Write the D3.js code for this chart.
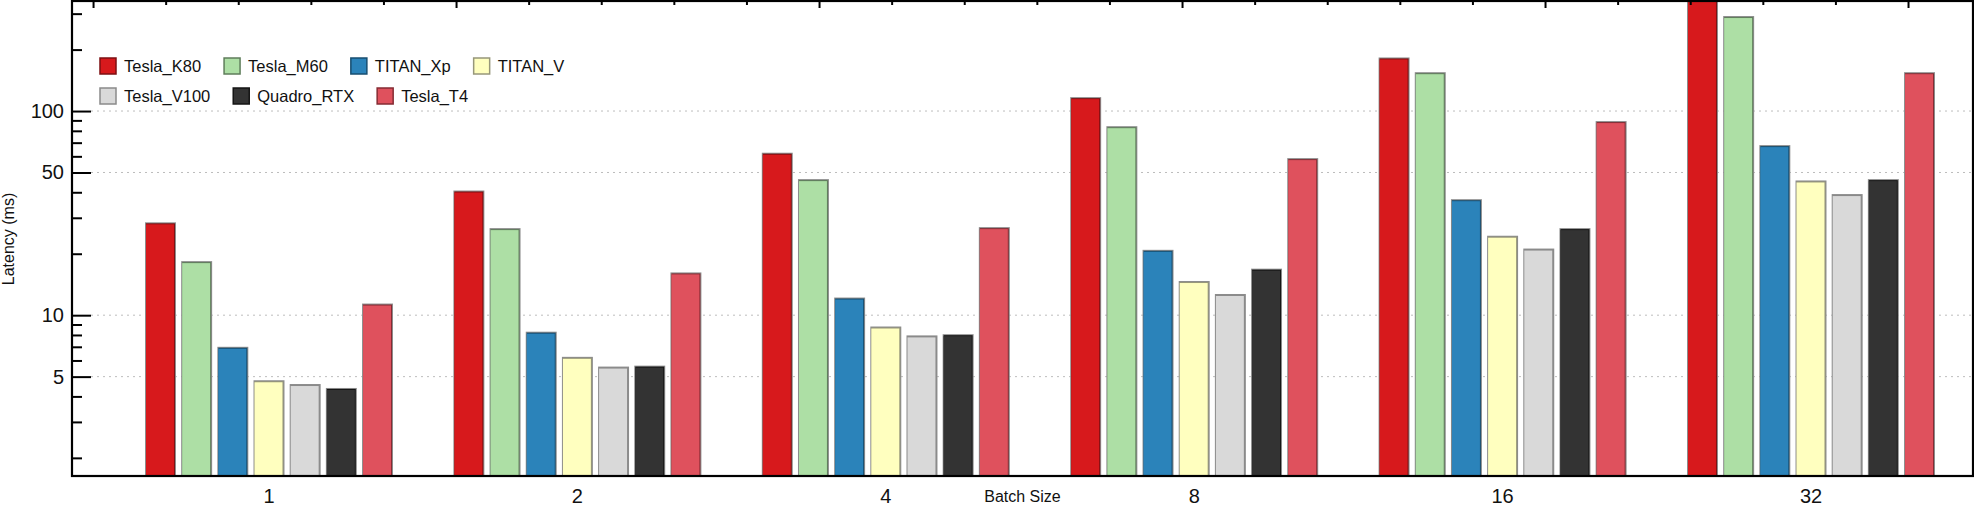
<!DOCTYPE html>
<html>
  <head>
    <script src="https://d3js.org/d3.v7.min.js"></script>
    <style>
      body { margin: 0; background: #fff; }
      text { font-family: "Liberation Sans", Arial, sans-serif; fill: #111; }
      .tick-label { font-size: 20px; }
      .axis-label { font-size: 16px; }
      .legend-label { font-size: 16.5px; }
    </style>
  </head>
  <body>
    <div id="chart"></div>
    <script>
      // Data
      const batchSizes = ["1", "2", "4", "8", "16", "32"];
      const gpus = ["Tesla_K80", "Tesla_M60", "TITAN_Xp", "TITAN_V", "Tesla_V100", "Quadro_RTX", "Tesla_T4"];
      const teslaK80 = [28.5, 40.8, 62.5, 117, 183, 380];
      const teslaM60 = [18.4, 26.7, 46.4, 84.3, 155, 292];
      const titanXp = [7.0, 8.3, 12.2, 20.9, 37.0, 68.1];
      const titanV = [4.8, 6.25, 8.8, 14.7, 24.5, 45.7];
      const teslaV100 = [4.6, 5.6, 7.96, 12.7, 21.2, 39.2];
      const quadroRTX = [4.4, 5.66, 8.07, 16.9, 26.7, 46.4];
      const teslaT4 = [11.4, 16.2, 27.0, 58.8, 89.3, 155];
      const seriesValues = [teslaK80, teslaM60, titanXp, titanV, teslaV100, quadroRTX, teslaT4];
      const yMajorTicks = [5, 10, 50, 100];
      const yMinorTicks = [2, 3, 4, 6, 7, 8, 9, 20, 30, 40, 60, 70, 80, 90, 200, 300];

      const fills = ["#d7191c", "#addfa5", "#2b83ba", "#ffffbf", "#d9d9d9", "#333333", "#df515d"];
      const edges = ["#7d0f12", "#5f7d5b", "#174e70", "#97977a", "#8a8a8a", "#151515", "#852b33"];

      const W = 1974, H = 506;
      const pL = 72, pR = 1973, pT = 1, pB = 476;

      const svg = d3.select("#chart").append("svg")
        .attr("width", W).attr("height", H);

      // Scales
      const y = d3.scaleLog().domain([1.63, 346]).range([pB, pT]);
      const x0 = d3.scaleBand().domain(batchSizes).range([114.8, 1965.2]);
      const x1 = d3.scaleBand().domain(gpus)
        .range([x0.bandwidth() / 2 - 124, x0.bandwidth() / 2 + 124])
        .paddingInner(0.144);
      const xt = d3.scaleLinear().domain([-0.058, 5.179]).range([pL, pR]);

      svg.append("clipPath").attr("id", "plot-clip")
        .append("rect").attr("x", pL).attr("y", pT + 1)
        .attr("width", pR - pL).attr("height", pB - pT - 1);

      // Dotted gridlines
      svg.append("g").selectAll("line").data(yMajorTicks).join("line")
        .attr("x1", pL + 19).attr("x2", pR)
        .attr("y1", d => y(d)).attr("y2", d => y(d))
        .attr("stroke", "#bdbdbd").attr("stroke-width", 1)
        .attr("stroke-dasharray", "2,4");

      // Bars: gray outline, dark edge, fill
      const rows = [];
      batchSizes.forEach((b, i) => gpus.forEach((g, j) => rows.push({ b, g, j, v: seriesValues[j][i] })));
      const bars = svg.append("g").attr("clip-path", "url(#plot-clip)")
        .selectAll("g").data(rows).join("g")
        .attr("transform", d => `translate(${x0(d.b) + x1(d.g)},0)`);
      const bw = x1.bandwidth();
      bars.append("rect").attr("x", 0).attr("width", bw)
        .attr("y", d => y(d.v)).attr("height", d => pB - y(d.v))
        .attr("fill", "#8c8c8c");
      bars.append("rect").attr("x", 1).attr("width", bw - 2)
        .attr("y", d => y(d.v) + 1).attr("height", d => pB - y(d.v))
        .attr("fill", d => edges[d.j]);
      bars.append("rect").attr("x", 1).attr("width", bw - 3)
        .attr("y", d => y(d.v) + 2).attr("height", d => pB - y(d.v))
        .attr("fill", d => fills[d.j]);

      // Left axis: major ticks with labels, minor ticks inward
      const yAxis = svg.append("g").attr("transform", `translate(${pL},0)`)
        .call(d3.axisLeft(y).tickValues(yMajorTicks).tickFormat(d3.format("d"))
          .tickSize(-19).tickPadding(8));
      yAxis.selectAll("text").attr("class", "tick-label").attr("fill", "#111");
      svg.append("g").attr("transform", `translate(${pL},0)`)
        .call(d3.axisLeft(y).tickValues(yMinorTicks).tickFormat("").tickSize(-10));

      // Top mirror axis with minor/major ticks
      const topMinor = d3.range(0, 26).map(i => i / 5).filter(v => v % 1 !== 0 && v < 5.179);
      svg.append("g").attr("transform", `translate(0,${pT})`)
        .call(d3.axisTop(xt).tickValues(d3.range(0, 6)).tickFormat("").tickSize(-7));
      svg.append("g").attr("transform", `translate(0,${pT})`)
        .call(d3.axisTop(xt).tickValues(topMinor).tickFormat("").tickSize(-4));

      // Bottom category axis
      const xAxis = svg.append("g").attr("transform", `translate(0,${pB})`)
        .call(d3.axisBottom(x0).tickSize(0).tickPadding(13));
      xAxis.selectAll("text").attr("class", "tick-label").attr("fill", "#111");

      svg.selectAll(".domain").remove();
      svg.selectAll(".tick line").attr("stroke", "#000").attr("stroke-width", 2);

      // Frame
      svg.append("rect").attr("x", pL).attr("y", pT)
        .attr("width", pR - pL).attr("height", pB - pT)
        .attr("fill", "none").attr("stroke", "#000").attr("stroke-width", 2.2);

      // Axis labels
      svg.append("text").attr("class", "axis-label")
        .attr("x", (pL + pR) / 2).attr("y", 502)
        .attr("text-anchor", "middle").text("Batch Size");
      svg.append("text").attr("class", "axis-label")
        .attr("transform", "translate(14,239) rotate(-90)")
        .attr("text-anchor", "middle").text("Latency (ms)");

      // Legend (two flowing rows)
      const legendRows = [gpus.slice(0, 4), gpus.slice(4)];
      legendRows.forEach((row, r) => {
        let lx = 100;
        const ly = 58 + r * 30;
        row.forEach(g => {
          const j = gpus.indexOf(g);
          svg.append("rect").attr("x", lx).attr("y", ly).attr("width", 16).attr("height", 16)
            .attr("fill", fills[j]).attr("stroke", edges[j]).attr("stroke-width", 1.5);
          const t = svg.append("text").attr("class", "legend-label")
            .attr("x", lx + 24).attr("y", ly + 14).text(g);
          lx += 24 + t.node().getComputedTextLength() + 23;
        });
      });
    </script>
  </body>
</html>
